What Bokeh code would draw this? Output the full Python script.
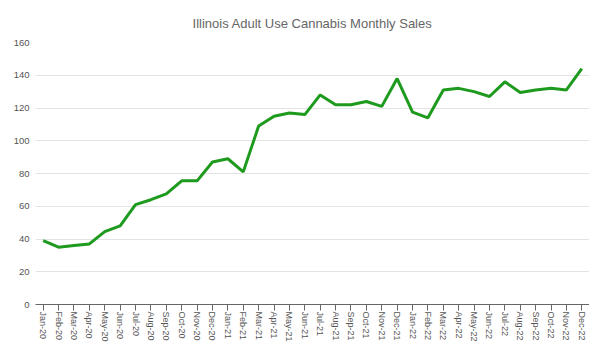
from bokeh.plotting import figure
from bokeh.models import FixedTicker, Range1d, FactorRange
from bokeh.embed import file_html
from bokeh.resources import INLINE

months = ["Jan-20", "Feb-20", "Mar-20", "Apr-20", "May-20", "Jun-20", "Jul-20", "Aug-20",
          "Sep-20", "Oct-20", "Nov-20", "Dec-20", "Jan-21", "Feb-21", "Mar-21", "Apr-21",
          "May-21", "Jun-21", "Jul-21", "Aug-21", "Sep-21", "Oct-21", "Nov-21", "Dec-21",
          "Jan-22", "Feb-22", "Mar-22", "Apr-22", "May-22", "Jun-22", "Jul-22", "Aug-22",
          "Sep-22", "Oct-22", "Nov-22", "Dec-22"]
sales = [39, 35, 36, 37, 44.5, 48, 61, 64, 67.5, 75.5, 75.5, 87,
         89, 81, 109, 115, 117, 116, 128, 122, 122, 124, 121, 138,
         117.5, 114, 131, 132, 130, 127, 136, 129.5, 131, 132, 131, 144]
y_ticks = [0, 20, 40, 60, 80, 100, 120, 140, 160]
title = "Illinois Adult Use Cannabis Monthly Sales"

p = figure(width=589, height=344, x_range=FactorRange(*months, range_padding=0),
           y_range=Range1d(0, 160), output_backend="svg", toolbar_location=None,
           title=title, min_border_left=35, min_border_right=0,
           min_border_top=42, min_border_bottom=40)

p.line(months, sales, line_color="#1e9a1e", line_width=3)

p.title.align = "center"
p.title.text_font = "Liberation Sans"
p.title.text_font_size = "13px"
p.title.text_font_style = "normal"
p.title.text_color = "#666666"
p.title.standoff = 24

p.outline_line_color = None
p.background_fill_color = "white"
p.border_fill_color = "white"

p.xgrid.grid_line_color = None
p.ygrid.grid_line_color = "#e3e3e3"
p.ygrid.grid_line_width = 1
p.yaxis.ticker = FixedTicker(ticks=y_ticks)
p.yaxis.axis_line_color = None
p.yaxis.major_tick_line_color = None
p.yaxis.minor_tick_line_color = None
p.yaxis.major_label_text_font = "Liberation Sans"
p.yaxis.major_label_text_font_size = "9.5px"
p.yaxis.major_label_text_color = "#555555"
p.yaxis.major_label_standoff = 0

p.xaxis.axis_line_color = "#666666"
p.xaxis.major_tick_line_color = "#666666"
p.xaxis.major_tick_out = 6
p.xaxis.major_tick_in = 0
p.xaxis.major_label_orientation = "vertical"
p.xaxis.major_label_text_font = "Liberation Sans"
p.xaxis.major_label_text_font_size = "9px"
p.xaxis.major_label_text_color = "#555555"
p.xaxis.major_label_standoff = 1

open("out.html", "w").write(file_html(p, INLINE))
